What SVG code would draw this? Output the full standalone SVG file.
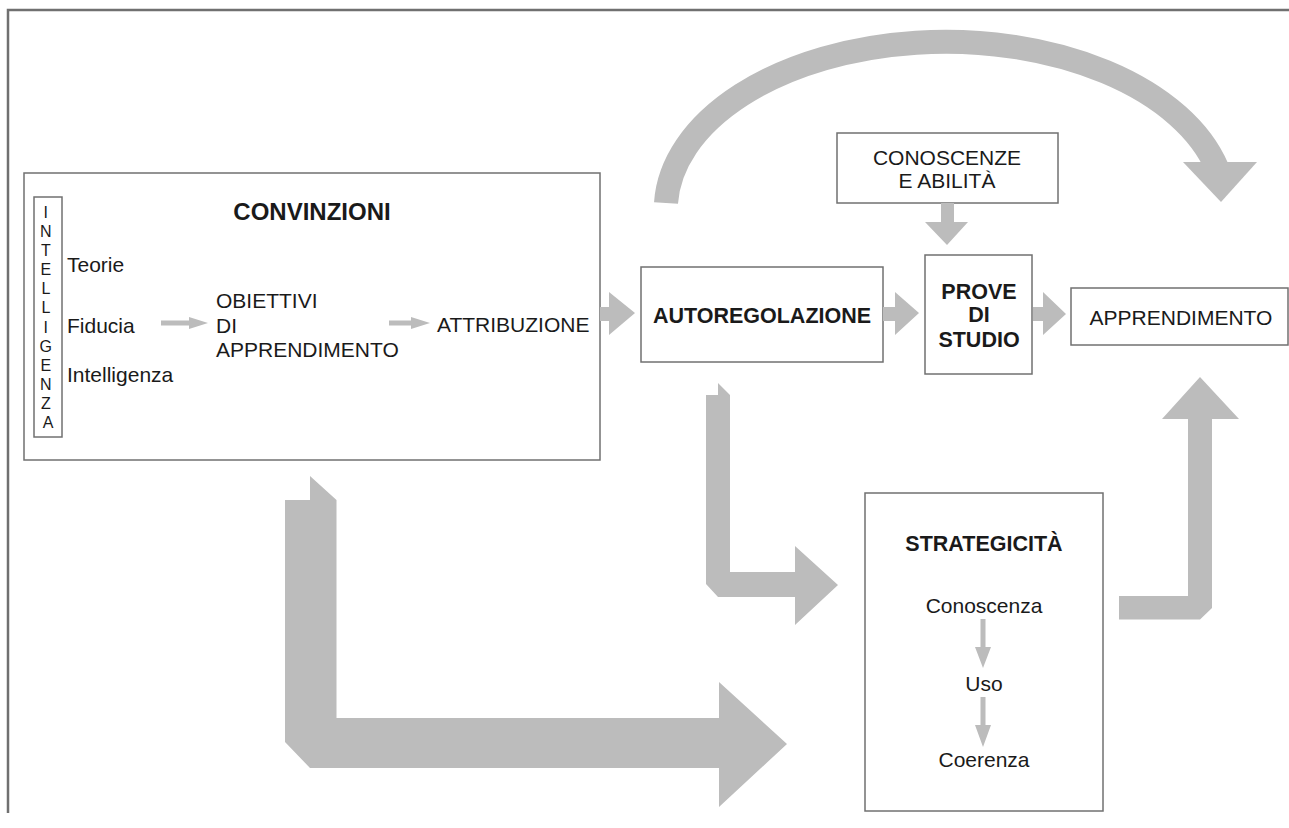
<svg xmlns="http://www.w3.org/2000/svg" width="1289" height="828" viewBox="0 0 1289 828">
<style>
  .box { fill: #ffffff; stroke: #707070; stroke-width: 1.5; }
  .frame { fill: none; stroke: #707070; stroke-width: 2.5; }
  .arr { fill: #bcbcbc; stroke: none; }
  .arc { fill: none; stroke: #bcbcbc; stroke-width: 24; }
  .t { font-family: "Liberation Sans", Arial, Helvetica, sans-serif; font-size: 21px; fill: #1a1a1a; }
  .b { font-family: "Liberation Sans", Arial, Helvetica, sans-serif; font-size: 21.5px; font-weight: bold; fill: #1a1a1a; }
  .v { font-family: "Liberation Sans", Arial, Helvetica, sans-serif; font-size: 16px; fill: #1a1a1a; }
  .m { text-anchor: middle; }
</style>
<rect width="1289" height="828" fill="#ffffff"/>
<path class="frame" d="M 8 813 L 8 10 L 1289 10"/>

<g id="convinzioni">
  <rect class="box" x="24" y="173" width="576" height="287"/>
  <text class="b m" x="312" y="220" style="font-size:24px">CONVINZIONI</text>
  <text class="t" x="67" y="272">Teorie</text>
  <text class="t" x="67" y="333">Fiducia</text>
  <text class="t" x="67" y="382">Intelligenza</text>
  <text class="t" x="216" y="308">OBIETTIVI</text>
  <text class="t" x="216" y="333">DI</text>
  <text class="t" x="216" y="357">APPRENDIMENTO</text>
  <text class="t" x="437" y="332">ATTRIBUZIONE</text>
  <path class="arr" d="M 161 320.5 L 189 320.5 L 189 317 L 208 323 L 189 329 L 189 325.5 L 161 325.5 Z"/>
  <path class="arr" d="M 389 320.5 L 411 320.5 L 411 317 L 430 323 L 411 329 L 411 325.5 L 389 325.5 Z"/>
</g>

<g id="intelligenza">
  <rect class="box" x="34" y="197" width="28" height="240"/>
  <text class="v m">
    <tspan x="48" y="218">I</tspan>
    <tspan x="48" y="237">N</tspan>
    <tspan x="48" y="256">T</tspan>
    <tspan x="48" y="275">E</tspan>
    <tspan x="48" y="294">L</tspan>
    <tspan x="48" y="313">L</tspan>
    <tspan x="48" y="333">I</tspan>
    <tspan x="48" y="352">G</tspan>
    <tspan x="48" y="371">E</tspan>
    <tspan x="48" y="390">N</tspan>
    <tspan x="48" y="409">Z</tspan>
    <tspan x="48" y="428">A</tspan>
  </text>
</g>

<g id="conoscenze">
  <rect class="box" x="837" y="133" width="221" height="70"/>
  <text class="t m" x="947" y="165">CONOSCENZE</text>
  <text class="t m" x="947" y="188">E ABILITÀ</text>
</g>

<g id="autoregolazione">
  <rect class="box" x="641" y="267" width="242" height="95"/>
  <text class="b m" x="762" y="323">AUTOREGOLAZIONE</text>
</g>

<g id="prove">
  <rect class="box" x="925" y="255" width="107" height="119"/>
  <text class="b m" x="979" y="299">PROVE</text>
  <text class="b m" x="979" y="322">DI</text>
  <text class="b m" x="979" y="347">STUDIO</text>
</g>

<g id="apprendimento">
  <rect class="box" x="1071" y="288" width="217" height="57"/>
  <text class="t m" x="1181" y="325">APPRENDIMENTO</text>
</g>

<g id="strategicita">
  <rect class="box" x="865" y="493" width="238" height="318"/>
  <text class="b m" x="984" y="551">STRATEGICITÀ</text>
  <text class="t m" x="984" y="613">Conoscenza</text>
  <text class="t m" x="984" y="691">Uso</text>
  <text class="t m" x="984" y="767">Coerenza</text>
  <path class="arr" d="M 980.5 619 L 985.5 619 L 985.5 647 L 991 647 L 983 668 L 975 647 L 980.5 647 Z"/>
  <path class="arr" d="M 980.5 697 L 985.5 697 L 985.5 725 L 991 725 L 983 747 L 975 725 L 980.5 725 Z"/>
</g>

<g id="connectors">
  <path class="arc" d="M 666 203 A 280 168 0 0 1 1217 168"/>
  <path class="arr" d="M 1183 162 L 1257 162 L 1221 202 Z"/>
  <path class="arr" d="M 600 307 L 609 307 L 609 292 L 635 313 L 609 335 L 609 321 L 600 321 Z"/>
  <path class="arr" d="M 883 307 L 895 307 L 895 292 L 919 313 L 895 335 L 895 321 L 883 321 Z"/>
  <path class="arr" d="M 1033 307 L 1043 307 L 1043 292 L 1066 314 L 1043 335 L 1043 321 L 1033 321 Z"/>
  <path class="arr" d="M 941 203 L 954 203 L 954 222 L 968 222 L 947 245 L 925 222 L 941 222 Z"/>
  <path class="arr" d="M 706 395 L 718 395 L 718 383 L 730 395 L 730 572 L 795 572 L 795 546 L 838 585 L 795 625 L 795 597 L 718 597 L 706 584 Z"/>
  <path class="arr" d="M 285 500 L 310 500 L 310 476 L 336.5 500 L 336.5 718 L 719 718 L 719 682 L 787 744 L 719 807 L 719 768 L 310 768 L 285 742 Z"/>
  <path class="arr" d="M 1119 596 L 1188 596 L 1188 419 L 1162 419 L 1200 377 L 1239 419 L 1212 419 L 1212 608 L 1200 619.5 L 1119 619.5 Z"/>
</g>
</svg>
